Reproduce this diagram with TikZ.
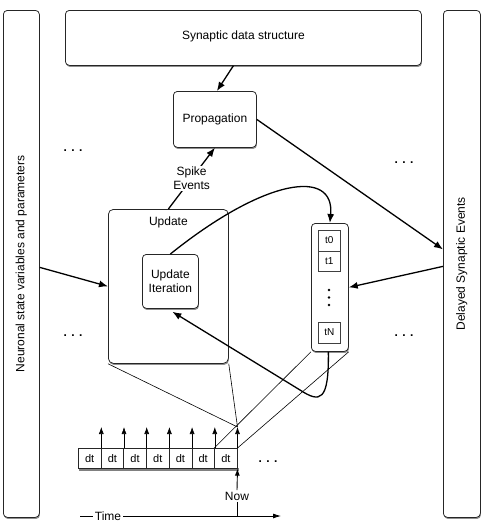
\documentclass[tikz,border=0pt]{standalone}
\usepackage{fontspec}
\setmainfont{Liberation Sans}
\usetikzlibrary{shadows,arrows.meta,calc}
\begin{document}
\begin{tikzpicture}[x=1pt,y=-1pt,
  font=\fontsize{12}{14}\selectfont,
  box/.style={draw=black!85, line width=0.75pt, rounded corners=4pt, fill=white, inner sep=0pt, anchor=north west,
     drop shadow={shadow xshift=0.6pt, shadow yshift=-1.6pt, fill=black!55, opacity=0.8}},
  cell/.style={draw=black!85, line width=0.6pt, fill=white, inner sep=0pt, minimum width=22.7pt, minimum height=20pt, anchor=north west, font=\fontsize{11}{12}\selectfont},
  tcell/.style={draw=black!75, line width=0.6pt, fill=white, inner sep=0pt, minimum width=22pt, minimum height=20.5pt, anchor=north west, font=\fontsize{10}{11}\selectfont},
  bigarrow/.style={line width=1.3pt, -{Latex[length=9pt,width=7pt]}},
  smallarrow/.style={line width=0.6pt, -{Latex[length=7pt,width=5pt]}},
  thinline/.style={line width=0.6pt},
  txt/.style={inner sep=1pt}
]
\useasboundingbox (0,0) rectangle (483,531);

% side bars
\node[box, minimum width=36pt, minimum height=507pt] (lbar) at (3,10) {};
\node[box, minimum width=37pt, minimum height=507pt] (rbar) at (443,10) {};
\node[txt, rotate=90] (ltext) at (lbar.center) {Neuronal state variables and parameters};
\node[txt, rotate=90] (rtext) at (rbar.center) {Delayed Synaptic Events};

% top box
\node[box, minimum width=356pt, minimum height=55pt] (top) at (65,10) {};
\node[txt] (toptext) at ($(top.center)+(0,-1)$) {Synaptic data structure};

% propagation
\node[box, minimum width=83pt, minimum height=56pt] (prop) at (173,91) {};
\node[txt] (proptext) at (prop.center) {Propagation};

% update
\node[box, rounded corners=5pt, minimum width=120pt, minimum height=154pt] (upd) at (108,209) {};
\node[txt] (updtext) at ($(upd.north)+(0,13)$) {Update};
\node[box, minimum width=56pt, minimum height=54pt] (ui) at (142,254) {};
\node[txt, align=center] (uitext) at (ui.center) {Update\\Iteration};

% buffer
\node[box, minimum width=37pt, minimum height=128pt] (buf) at (311,223) {};
\node[tcell] (b0) at (318,230) {t0};
\node[tcell] (b1) at (318,250.5) {t1};
\node[tcell] (bN) at (318,322) {tN};
\foreach \yy in {290,297.5,305} \fill (329,\yy) circle (1.4pt);

% dots
\node[txt] (dotsA) at (73,151) {\textbf{. . .}};
\node[txt] (dotsB) at (404,163) {\textbf{. . .}};
\node[txt] (dotsC) at (73,336) {\textbf{. . .}};
\node[txt] (dotsD) at (404,336) {\textbf{. . .}};
\node[txt] (dotsE) at (268,462) {\textbf{. . .}};

% dt row
\fill[black!50] (79,468) rectangle (238.5,470.5);
\foreach \i in {1,...,7} \node[cell] (c\i) at ({78+(\i-1)*22.7},448) {dt};
\foreach \i in {1,...,7} \draw[smallarrow] (c\i.north east) -- ++(0,-21);
\coordinate (tip7) at ($(c7.north east)+(0,-21)$);

% time axis and now
\coordinate (ta) at (80,516);
\coordinate (tb) at (281,516);
\draw[line width=0.8pt, -{Latex[length=8pt,width=5pt]}] (ta) -- (tb);
\node[fill=white, inner sep=2pt] (time) at (108,516) {Time};
\node[fill=white, inner sep=1.5pt] (now) at (237,496) {Now};
\draw[line width=0.9pt, -{Latex[length=7pt,width=5pt]}] (now.north) -- (c7.south east);
\draw[thinline] (now.south) -- (now.south |- ta);

% connectors
\draw[bigarrow] ([xshift=-10pt]top.south) -- ([xshift=2pt]prop.north);
\draw[bigarrow] (upd.north) -- node[fill=white, inner sep=1pt, align=center, pos=0.5] (spike) {Spike\\Events} (prop.south);
\draw[bigarrow] (prop.east) -- ([yshift=14.5pt]rbar.west);
\draw[bigarrow] ([yshift=-3.5pt]lbar.east) -- (upd.west);
\draw[bigarrow] ([yshift=-2.5pt]rbar.west) -- (buf.east);
\draw[bigarrow] (ui.north) .. controls (265,178) and (335,168) .. (buf.north);
\draw[bigarrow] ([xshift=-1.5pt]buf.south) .. controls (329,402) and (320,403) .. (300,390) -- ([xshift=2pt,yshift=-3pt]ui.south);

% thin lines
\draw[thinline] (upd.south west) -- (tip7);
\draw[thinline] (upd.south east) -- (tip7);
\draw[thinline] (buf.south west) -- (c7.north west);
\draw[thinline] (buf.south east) -- (c7.north east);
\end{tikzpicture}
\end{document}
